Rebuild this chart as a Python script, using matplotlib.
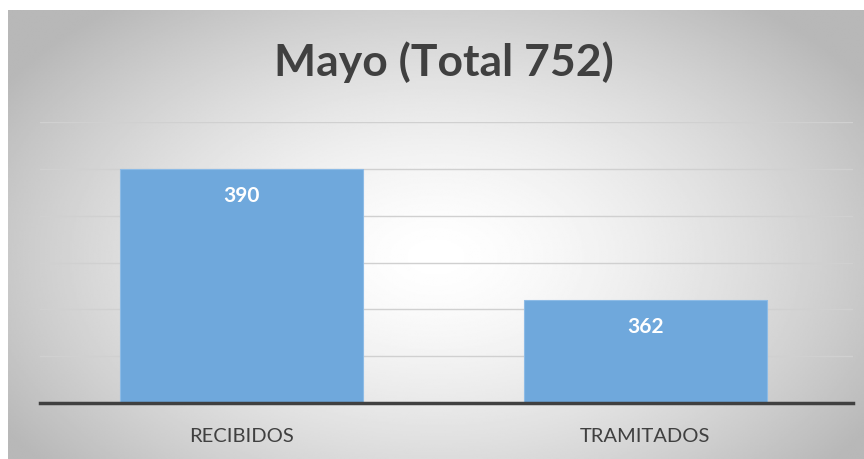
import numpy as np
import matplotlib.pyplot as plt

categories = ['RECIBIDOS', 'TRAMITADOS']
values = [390, 362]
title = 'Mayo (Total 752)'

W, H = 864, 459
fig = plt.figure(figsize=(W / 100, H / 100), dpi=100)
fig.patch.set_facecolor('white')

# radial gradient background panel
bg = fig.add_axes([8 / W, 0, 1 - 8 / W, 1 - 10 / H])
yy, xx = np.mgrid[0:1:300j, 0:1:500j]
r = np.sqrt(((xx - 0.5) / 0.6) ** 2 + ((yy - 0.45) / 0.72) ** 2)
shade = 1.0 - 0.28 * np.clip(r, 0, 1) ** 1.5
bg.imshow(shade, cmap='gray', vmin=0, vmax=1, extent=[0, 1, 0, 1],
          aspect='auto', origin='lower', interpolation='bilinear')
bg.axis('off')

ax = fig.add_axes([40 / W, 1 - 403 / H, 813 / W, 281 / H])
ax.patch.set_alpha(0)
ax.set_xlim(-0.499, 1.514)
ax.set_ylim(340, 400)
ax.set_yticks(np.arange(340, 401, 10))
ax.grid(axis='y', color='#d0d0d0', linewidth=1)
ax.set_axisbelow(True)

x = np.arange(len(categories))
bars = ax.bar(x, values, width=0.6, color='#6fa8dc', edgecolor='#8dbbe6',
              linewidth=0.8, zorder=2)
for xi, v in zip(x, values):
    ax.text(xi, v - 5.7, str(v), ha='center', va='center', color='white',
            fontsize=15, fontweight='bold', family='Lato', zorder=3)

for s in ['top', 'right', 'left']:
    ax.spines[s].set_visible(False)
ax.spines['bottom'].set_color('#404040')
ax.spines['bottom'].set_linewidth(2.5)
ax.spines['bottom'].set_zorder(4)
ax.tick_params(axis='y', left=False, labelleft=False)
ax.tick_params(axis='x', length=0, pad=18)
ax.set_xticks(x)
ax.set_xticklabels(categories, fontsize=14.5, color='#404040', family='Lato')

fig.text(444 / W, 1 - 62 / H, title, ha='center', va='center', fontsize=32,
         fontweight='bold', color='#404040', family='Lato')

fig.savefig('out.png', dpi=100)
